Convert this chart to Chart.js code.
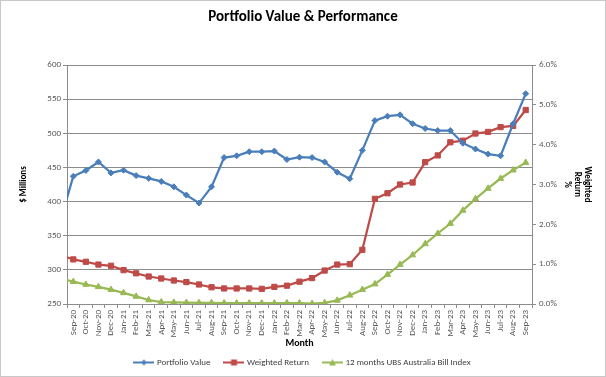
<!DOCTYPE html>
<html><head><meta charset="utf-8">
<script src="https://cdn.jsdelivr.net/npm/chart.js@4.4.1/dist/chart.umd.min.js"></script>
<style>html,body{margin:0;padding:0;background:#fff}#wrap{width:606px;height:377px}</style>
</head><body><div id="wrap"><canvas id="c" width="606" height="377"></canvas></div>
<script>
// Leading 'Aug-20' point lies just outside the plot (clipped), as in the reference.
const months = ['Aug-20','Sep-20','Oct-20','Nov-20','Dec-20','Jan-21','Feb-21','Mar-21','Apr-21','May-21','Jun-21','Jul-21','Aug-21','Sep-21','Oct-21','Nov-21','Dec-21','Jan-22','Feb-22','Mar-22','Apr-22','May-22','Jun-22','Jul-22','Aug-22','Sep-22','Oct-22','Nov-22','Dec-22','Jan-23','Feb-23','Mar-23','Apr-23','May-23','Jun-23','Jul-23','Aug-23','Sep-23'];
const portfolioValue = [373,437,445.5,458,442,446,438,434,429.5,421.6,409.5,397.8,421.6,464.5,467,473,473,474,461.6,465,464.5,458,443,433.5,475,518.6,525,527,514,507,504,504,485.5,477,469.5,467,514,558];
const weightedReturn = [1.22,1.12,1.06,0.99,0.96,0.85,0.77,0.69,0.64,0.59,0.55,0.49,0.42,0.39,0.39,0.39,0.38,0.43,0.46,0.56,0.65,0.84,0.99,1.00,1.36,2.64,2.78,3.00,3.05,3.56,3.73,4.06,4.10,4.28,4.32,4.44,4.47,4.87];
const billIndex = [0.64,0.56,0.49,0.43,0.36,0.28,0.19,0.10,0.05,0.04,0.035,0.03,0.03,0.025,0.02,0.02,0.02,0.02,0.025,0.025,0.01,0.03,0.09,0.22,0.36,0.50,0.74,0.99,1.23,1.51,1.77,2.02,2.35,2.64,2.90,3.15,3.36,3.55];
const leftTicks = {min:250, max:600, step:50};
const rightTicks = {min:0, max:6, step:1};

const FONT = "Carlito, Lato, 'Liberation Sans', sans-serif";
const TICK = '#595959';
const GRID = '#8c8c8c';
const C_BLUE = '#4A7EBB', C_RED = '#BE4B48', C_GREEN = '#98B954';

function pts(arr){ return arr.map((v,i)=>({x:i-1, y:v})); }

function icon(color, shape){
  const c = document.createElement('canvas'); c.width = 21; c.height = 10;
  const g = c.getContext('2d');
  g.strokeStyle = color; g.lineWidth = 2;
  g.beginPath(); g.moveTo(0,5); g.lineTo(21,5); g.stroke();
  g.fillStyle = color; g.beginPath();
  if (shape==='diamond'){ g.moveTo(10.5,2); g.lineTo(13.5,5); g.lineTo(10.5,8); g.lineTo(7.5,5); g.closePath(); }
  else if (shape==='square'){ g.rect(7.5,2,6,6); }
  else { g.moveTo(10.5,1.5); g.lineTo(14,8); g.lineTo(7,8); g.closePath(); }
  g.fill();
  return c;
}
const icons = [icon(C_BLUE,'diamond'), icon(C_RED,'square'), icon(C_GREEN,'triangle')];

const borderPlugin = {id:'border', afterDraw(chart){ const g=chart.ctx; g.save(); g.strokeStyle='#c8c8c8'; g.lineWidth=1; g.strokeRect(0.5,0.5,605,376); g.restore(); }};

new Chart(document.getElementById('c'), {
  type: 'line',
  data: { datasets: [
    {label:'Portfolio Value', data: pts(portfolioValue), yAxisID:'y', borderColor:C_BLUE, backgroundColor:C_BLUE, borderWidth:2.25, pointStyle:'rectRot', pointRadius:3, pointBorderWidth:1, tension:0},
    {label:'Weighted Return', data: pts(weightedReturn), yAxisID:'y1', borderColor:C_RED, backgroundColor:C_RED, borderWidth:2.25, pointStyle:'rect', pointRadius:3.7, pointBorderWidth:1, tension:0},
    {label:'12 months UBS Australia Bill Index', data: pts(billIndex), yAxisID:'y1', borderColor:C_GREEN, backgroundColor:C_GREEN, borderWidth:2.25, pointStyle:'triangle', pointRadius:3.6, pointBorderWidth:1, tension:0}
  ]},
  options: {
    responsive:false, animation:false, events:[],
    layout:{padding:0},
    plugins:{
      title:{display:true, text:'Portfolio Value & Performance', color:'#000', font:{family:FONT, size:15, weight:'bold'}, padding:{top:8,bottom:39}},
      legend:{position:'bottom', labels:{usePointStyle:true, pointStyleWidth:17, padding:15, color:'#404040', font:{family:FONT, size:9},
        generateLabels(chart){ return chart.data.datasets.map((ds,i)=>({text:ds.label, pointStyle:icons[i], fillStyle:ds.backgroundColor, strokeStyle:ds.borderColor, lineWidth:0, hidden:false, datasetIndex:i, fontColor:'#404040'})); }}},
      tooltip:{enabled:false}
    },
    scales:{
      x:{type:'linear', min:-0.5, max:36.5,
        afterBuildTicks(s){ const t=[]; for(let v=-0.5; v<=36.5; v+=0.5) t.push({value:v}); s.ticks=t; },
        ticks:{autoSkip:false, maxRotation:90, minRotation:90, padding:2, color:TICK, font:{family:FONT, size:9},
          callback:(v)=> Number.isInteger(v) ? months[v+1] : ''},
        grid:{drawOnChartArea:false, tickLength:4, color:(c)=> (c.tick && !Number.isInteger(c.tick.value)) ? GRID : 'rgba(0,0,0,0)'},
        border:{color:GRID},
        title:{display:true, text:'Month', color:'#000', font:{family:FONT, size:10, weight:'bold'}, padding:{top:0,bottom:-6}},
        afterFit(s){ s.height = 39; }
      },
      y:{position:'left', min:leftTicks.min, max:leftTicks.max,
        ticks:{stepSize:leftTicks.step, padding:2, color:TICK, font:{family:FONT, size:9}},
        grid:{color:GRID, tickLength:4},
        border:{color:GRID},
        title:{display:true, text:'$ Millions', color:'#000', font:{family:FONT, size:9, weight:'bold'}, padding:{top:18,bottom:0}},
        afterFit(s){ s.width = 67; }
      },
      y1:{position:'right', min:rightTicks.min, max:rightTicks.max,
        ticks:{stepSize:rightTicks.step, padding:3, color:TICK, font:{family:FONT, size:9}, callback:(v)=> v.toFixed(1)+'%'},
        grid:{drawOnChartArea:false, color:GRID, tickLength:4},
        border:{color:GRID},
        title:{display:true, text:['Weighted','Return','%'], color:'#000', font:{family:FONT, size:9, weight:'bold', lineHeight:1.1}, padding:{top:14,bottom:0}},
        afterFit(s){ s.width = 74; }
      }
    }
  },
  plugins:[borderPlugin]
});
</script>
</body></html>
